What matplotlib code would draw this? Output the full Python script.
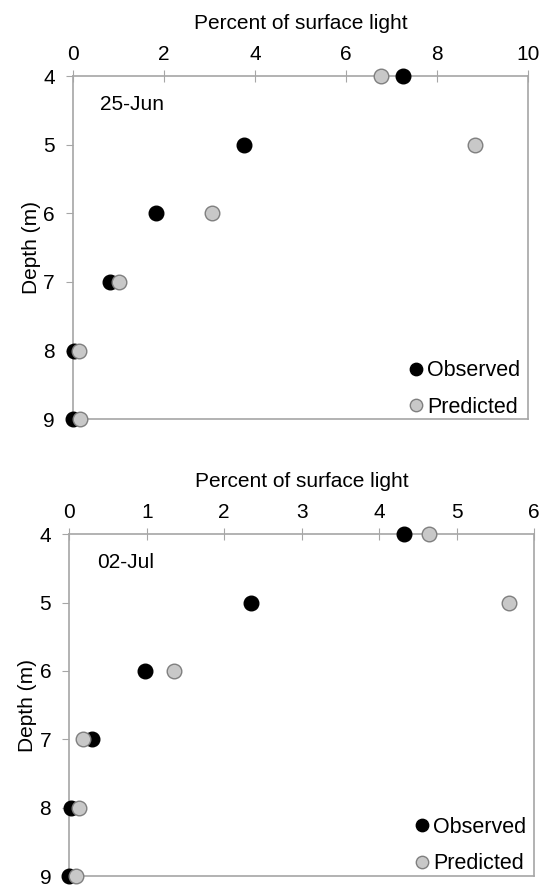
import matplotlib
matplotlib.use("Agg")
import matplotlib.pyplot as plt

# depths (m)
depth = [4, 5, 6, 7, 8, 9]

# 25-Jun, percent of surface light
jun_observed = [7.24, 3.76, 1.82, 0.81, 0.02, 0.0]
jun_predicted = [6.76, 8.84, 3.05, 1.0, 0.13, 0.15]

# 02-Jul, percent of surface light
jul_observed = [4.32, 2.35, 0.98, 0.30, 0.02, 0.0]
jul_predicted = [4.64, 5.68, 1.35, 0.18, 0.13, 0.09]

panel_labels = ["25-Jun", "02-Jul"]
x_limits = [(0, 10), (0, 6)]
x_ticks = [[0, 2, 4, 6, 8, 10], [0, 1, 2, 3, 4, 5, 6]]

plt.rcParams["font.family"] = ["Liberation Sans", "DejaVu Sans"]

SPINE = "#a6a6a6"
PRED_FACE = "#c8c8c8"
PRED_EDGE = "#7f7f7f"
FS = 15


def draw_panel(ax, observed, predicted, label, xlim, xticks):
    ax.plot(observed, depth, "o", ls="none", ms=10.5, mfc="black", mec="black",
            label="Observed", clip_on=False, zorder=3)
    ax.plot(predicted, depth, "o", ls="none", ms=10.5, mfc=PRED_FACE, mec=PRED_EDGE,
            mew=1.0, label="Predicted", clip_on=False, zorder=4)

    ax.set_xlim(*xlim)
    ax.set_ylim(9, 4)
    ax.set_xticks(xticks)
    ax.set_yticks(depth)
    ax.xaxis.tick_top()
    ax.xaxis.set_label_position("top")
    ax.set_xlabel("Percent of surface light", fontsize=FS, labelpad=12)
    ax.set_ylabel("Depth (m)", fontsize=FS, labelpad=2)

    for sp in ax.spines.values():
        sp.set_color(SPINE)
        sp.set_linewidth(1.2)
    ax.tick_params(axis="x", direction="inout", length=9, color=SPINE,
                   labelsize=FS, pad=4)
    ax.tick_params(axis="y", direction="out", length=5, color=SPINE,
                   labelsize=FS, pad=8)

    ax.text(0.06, 0.918, label, transform=ax.transAxes, fontsize=FS,
            va="center", ha="left")

    leg = ax.legend(loc="lower right", bbox_to_anchor=(1.006, -0.027), frameon=False,
                    fontsize=FS + 0.5, handlelength=0.6, handletextpad=0.2,
                    labelspacing=0.72, borderpad=0, markerscale=0.85)
    return leg


fig = plt.figure(figsize=(5.45, 8.88), dpi=100)
ax1 = fig.add_axes([0.134, 0.528, 0.835, 0.3864])
ax2 = fig.add_axes([0.127, 0.0135, 0.853, 0.385])

draw_panel(ax1, jun_observed, jun_predicted, panel_labels[0], x_limits[0], x_ticks[0])
draw_panel(ax2, jul_observed, jul_predicted, panel_labels[1], x_limits[1], x_ticks[1])

fig.savefig("out.png", dpi=100)
